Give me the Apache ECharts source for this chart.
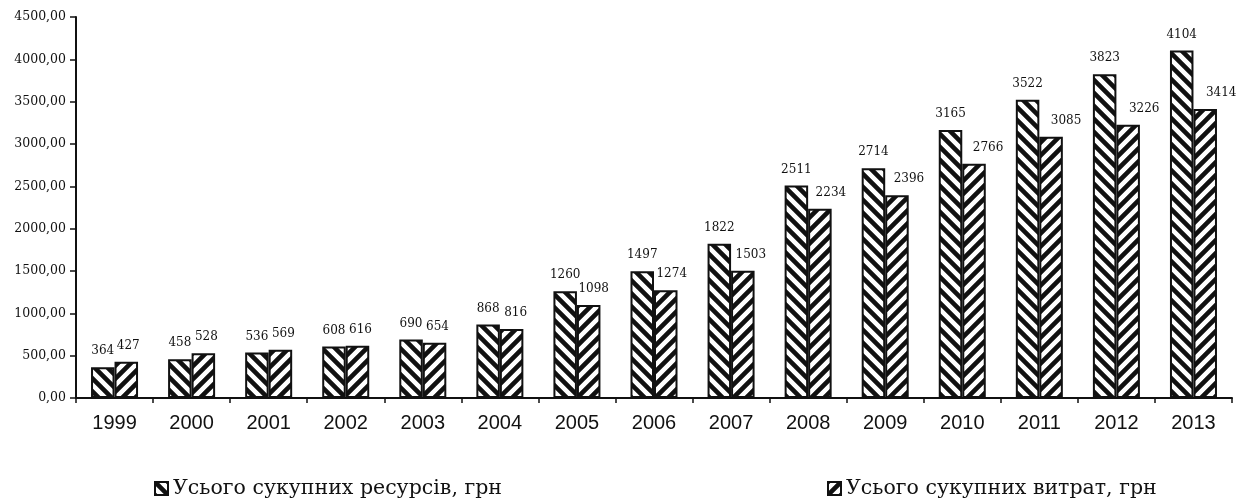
<!DOCTYPE html>
<html>
<head>
<meta charset="utf-8">
<script src="https://cdn.jsdelivr.net/npm/echarts@6/dist/echarts.min.js"></script>
<style>html,body{margin:0;padding:0;background:#fff}#c{width:1239px;height:499px}</style>
</head>
<body>
<div id="c"></div>
<script>
const categories = ['1999','2000','2001','2002','2003','2004','2005','2006','2007','2008','2009','2010','2011','2012','2013'];
const resources = [364,458,536,608,690,868,1260,1497,1822,2511,2714,3165,3522,3823,4104];
const expenses = [427,528,569,616,654,816,1098,1274,1503,2234,2396,2766,3085,3226,3414];
const seriesNames = ['Усього сукупних ресурсів, грн', 'Усього сукупних витрат, грн'];

function hatch(back) {
  const s = 13;
  const c = document.createElement('canvas');
  c.width = s; c.height = s;
  const g = c.getContext('2d');
  g.fillStyle = '#fff'; g.fillRect(0, 0, s, s);
  g.strokeStyle = '#111'; g.lineWidth = 4.6;
  g.beginPath();
  if (back) {
    for (let k = -1; k <= 1; k++) { g.moveTo(k * s - 2, -2); g.lineTo(k * s + s + 2, s + 2); }
  } else {
    for (let k = -1; k <= 1; k++) { g.moveTo(k * s - 2, s + 2); g.lineTo(k * s + s + 2, -2); }
  }
  g.stroke();
  return c;
}

const chart = echarts.init(document.getElementById('c'));
const serif = '"DejaVu Serif", serif';
const labelStyle = { show: true, position: 'top', distance: 10, fontFamily: serif, fontSize: 12, color: '#111' };
const legendText = { fontFamily: serif, fontSize: 20.5, color: '#111' };
chart.setOption({
  animation: false,
  grid: { left: 76, right: 7, top: 17, bottom: 101, containLabel: false },
  legend: [
    { data: [seriesNames[0]], left: 149, top: 473, itemWidth: 13, itemHeight: 13, icon: 'rect', itemGap: 9,
      textStyle: legendText },
    { data: [seriesNames[1]], left: 822, top: 473, itemWidth: 13, itemHeight: 13, icon: 'rect', itemGap: 9,
      textStyle: legendText }
  ],
  xAxis: {
    type: 'category', data: categories,
    axisLine: { lineStyle: { color: '#111', width: 2 } },
    axisTick: { show: true, length: 5, lineStyle: { color: '#111', width: 1.5 } },
    axisLabel: { fontFamily: '"Liberation Sans", Arial, sans-serif', fontSize: 20, color: '#111', margin: 15 }
  },
  yAxis: {
    type: 'value', min: 0, max: 4500, interval: 500,
    splitLine: { show: false },
    axisLine: { show: true, lineStyle: { color: '#111', width: 2 } },
    axisTick: { show: true, length: 6, lineStyle: { color: '#111', width: 1.5 } },
    axisLabel: { fontFamily: serif, fontSize: 12.5, color: '#111', margin: 10,
      formatter: v => v.toFixed(2).replace('.', ',') }
  },
  series: [
    { name: seriesNames[0], type: 'bar', data: resources, barGap: '0%', barCategoryGap: '39%',
      itemStyle: { color: { image: hatch(true), repeat: 'repeat' }, borderColor: '#111', borderWidth: 2 },
      label: labelStyle },
    { name: seriesNames[1], type: 'bar', barGap: '0%', barCategoryGap: '39%',
      data: expenses.map(v => ({ value: v, label: { offset: [Math.min(16, Math.round(v / 200)), 0] } })),
      itemStyle: { color: { image: hatch(false), repeat: 'repeat' }, borderColor: '#111', borderWidth: 2 },
      label: labelStyle }
  ]
});
</script>
</body>
</html>
